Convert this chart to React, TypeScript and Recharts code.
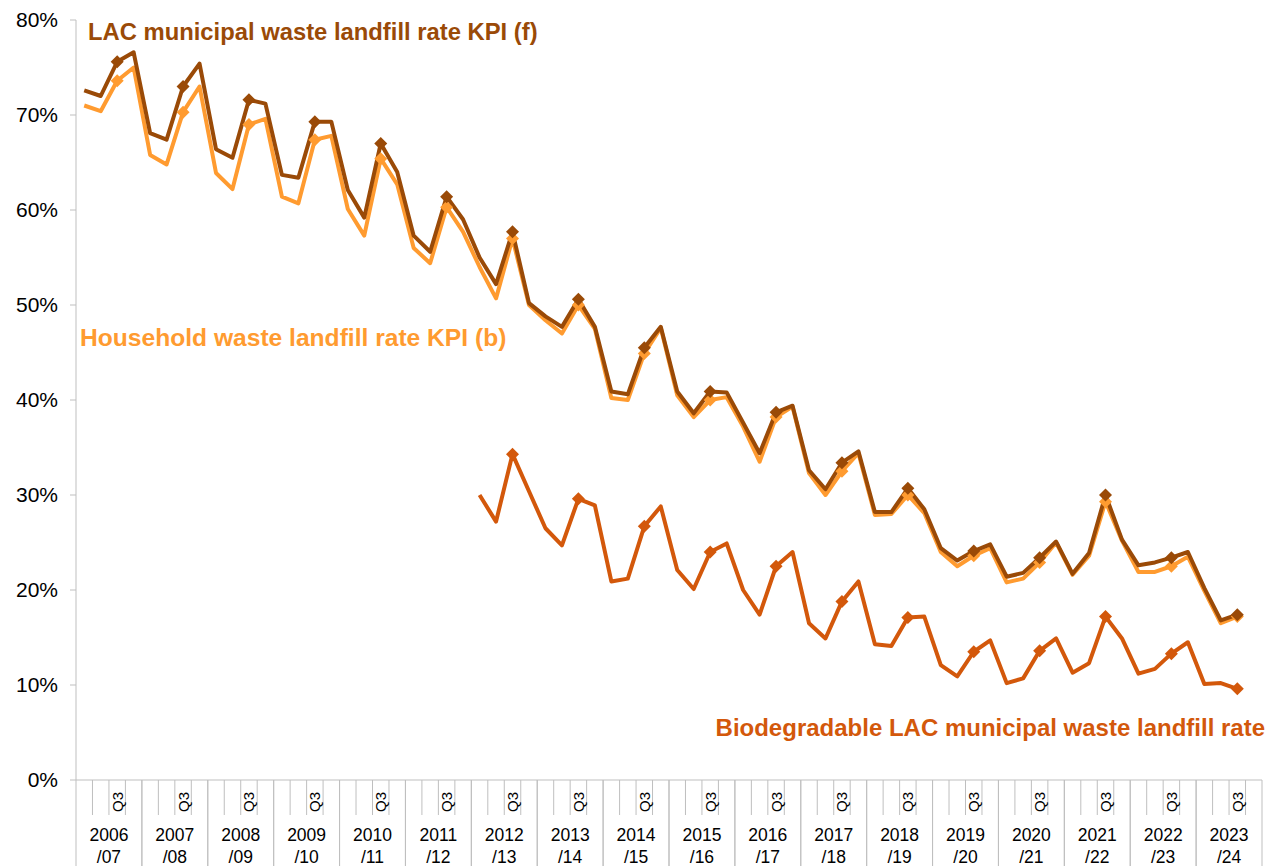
import { LineChart, Line, XAxis, YAxis, Customized } from "recharts";

const YEARS = [
  "2006/07", "2007/08", "2008/09", "2009/10", "2010/11", "2011/12",
  "2012/13", "2013/14", "2014/15", "2015/16", "2016/17", "2017/18",
  "2018/19", "2019/20", "2020/21", "2021/22", "2022/23", "2023/24",
];
const QUARTERS = ["Q1", "Q2", "Q3", "Q4"];
const Y_TICKS = [0, 10, 20, 30, 40, 50, 60, 70, 80];

// LAC municipal waste landfill rate KPI (f), quarterly
const lacRate = [
  72.6, 72.0, 75.6, 76.6,
  68.1, 67.4, 73.0, 75.4,
  66.4, 65.5, 71.6, 71.2,
  63.7, 63.4, 69.3, 69.3,
  62.1, 59.2, 67.0, 64.0,
  57.3, 55.6, 61.4, 59.0,
  55.0, 52.2, 57.7, 50.2,
  48.8, 47.7, 50.6, 47.7,
  40.9, 40.6, 45.5, 47.7,
  40.9, 38.6, 40.9, 40.8,
  37.6, 34.4, 38.7, 39.4,
  32.6, 30.6, 33.4, 34.6,
  28.2, 28.2, 30.7, 28.5,
  24.4, 23.1, 24.1, 24.8,
  21.4, 21.8, 23.4, 25.1,
  21.7, 23.9, 30.0, 25.3,
  22.6, 22.9, 23.4, 24.0,
  20.2, 16.8, 17.4, null,
];

// Household waste landfill rate KPI (b)
const householdRate = [
  71.0, 70.4, 73.6, 75.0,
  65.8, 64.8, 70.3, 73.0,
  63.9, 62.2, 69.0, 69.6,
  61.4, 60.7, 67.4, 67.8,
  60.1, 57.3, 65.4, 62.7,
  56.0, 54.4, 60.3, 57.7,
  54.0, 50.7, 57.0, 50.0,
  48.4, 47.0, 50.0, 47.5,
  40.2, 40.0, 44.9, 47.6,
  40.5, 38.2, 40.0, 40.3,
  37.2, 33.5, 38.2, 39.3,
  32.3, 30.0, 32.5, 34.4,
  27.9, 28.0, 30.0, 28.1,
  24.0, 22.5, 23.6, 24.4,
  20.8, 21.2, 22.9, 25.0,
  21.6, 23.6, 29.3, 25.2,
  21.9, 21.9, 22.5, 23.5,
  19.9, 16.5, 17.2, null,
];

// Biodegradable LAC municipal waste landfill rate (starts 2012/13)
const bioRate = [
  null, null, null, null,
  null, null, null, null,
  null, null, null, null,
  null, null, null, null,
  null, null, null, null,
  null, null, null, null,
  30.0, 27.2, 34.3, 30.4,
  26.5, 24.7, 29.6, 28.9,
  20.9, 21.2, 26.7, 28.8,
  22.1, 20.1, 24.0, 24.9,
  20.0, 17.4, 22.5, 24.0,
  16.5, 14.9, 18.8, 20.9,
  14.3, 14.1, 17.1, 17.2,
  12.1, 10.9, 13.5, 14.7,
  10.2, 10.7, 13.6, 14.9,
  11.3, 12.3, 17.2, 14.9,
  11.2, 11.7, 13.3, 14.5,
  10.1, 10.2, 9.6, null,
];

const LAC_COLOR = "#9A4A07";
const HH_COLOR = "#FF9B30";
const BIO_COLOR = "#D3580B";
const AXIS_COLOR = "#BFBFBF";
const FONT = "Arial, 'Liberation Sans', sans-serif";

const WIDTH = 1277;
const HEIGHT = 866;
const PLOT_LEFT = 76;
const PLOT_RIGHT = 1262;
const PLOT_TOP = 20;
const X_AXIS_HEIGHT = 86;

const data = YEARS.flatMap((year, y) =>
  QUARTERS.map((quarter, q) => {
    const i = y * 4 + q;
    return {
      key: `${year} ${quarter}`,
      year,
      quarter,
      lac: lacRate[i],
      household: householdRate[i],
      bio: bioRate[i],
    };
  })
);

const STEP = (PLOT_RIGHT - PLOT_LEFT) / data.length;
const HALF = STEP / 2;

function QuarterTick(props: any) {
  const { x, y, index } = props;
  const quarter = QUARTERS[index % 4];
  const [top, bottom] = YEARS[Math.floor(index / 4)].split("/");
  const shortEnd = y + 35;
  const longEnd = HEIGHT;
  return (
    <g>
      {quarter === "Q1" && (
        <line x1={x - HALF} x2={x - HALF} y1={y} y2={longEnd} stroke={AXIS_COLOR} />
      )}
      <line
        x1={x + HALF}
        x2={x + HALF}
        y1={y}
        y2={quarter === "Q4" ? longEnd : shortEnd}
        stroke={AXIS_COLOR}
      />
      {quarter === "Q3" && (
        <text
          x={x}
          y={y + 22}
          transform={`rotate(-90 ${x} ${y + 22})`}
          textAnchor="middle"
          dominantBaseline="central"
          fontSize={15}
          fontFamily={FONT}
          fill="#000"
        >
          Q3
        </text>
      )}
      {quarter === "Q2" && (
        <text
          x={x + HALF}
          y={y + 61}
          textAnchor="middle"
          fontSize={17.5}
          fontFamily={FONT}
          fill="#000"
        >
          <tspan x={x + HALF}>{top}</tspan>
          <tspan x={x + HALF} dy={22}>
            /{bottom}
          </tspan>
        </text>
      )}
    </g>
  );
}

function diamondDot(color: string) {
  return (props: any) => {
    const { cx, cy, payload, index } = props;
    if (payload?.quarter !== "Q3" || cy == null || Number.isNaN(cy)) {
      return <g key={`d-${index}`} />;
    }
    const r = 6.5;
    return (
      <path
        key={`d-${index}`}
        d={`M${cx},${cy - r} L${cx + r},${cy} L${cx},${cy + r} L${cx - r},${cy} Z`}
        fill={color}
      />
    );
  };
}

function SeriesLabels() {
  return (
    <g fontFamily={FONT} fontWeight="bold" fontSize={23.8}>
      <text x={88} y={40} fill={LAC_COLOR}>
        LAC municipal waste landfill rate KPI (f)
      </text>
      <text x={80} y={346} fill={HH_COLOR} fontSize={24.6}>
        Household waste landfill rate KPI (b)
      </text>
      <text x={1265} y={736} fill={BIO_COLOR} textAnchor="end" fontSize={24}>
        Biodegradable LAC municipal waste landfill rate
      </text>
    </g>
  );
}

export default function App() {
  return (
    <div style={{ position: "absolute", left: 0, top: 0, background: "#fff" }}>
      <LineChart
        width={WIDTH}
        height={HEIGHT}
        data={data}
        margin={{ top: PLOT_TOP, right: WIDTH - PLOT_RIGHT, bottom: 0, left: 0 }}
      >
        <XAxis
          dataKey="key"
          interval={0}
          height={X_AXIS_HEIGHT}
          tickSize={0}
          tickMargin={0}
          tickLine={false}
          axisLine={{ stroke: AXIS_COLOR }}
          padding={{ left: HALF, right: HALF }}
          tick={<QuarterTick />}
        />
        <YAxis
          width={PLOT_LEFT}
          domain={[0, 80]}
          ticks={Y_TICKS}
          allowDataOverflow
          tickFormatter={(v: number) => `${v}%`}
          axisLine={{ stroke: AXIS_COLOR }}
          tickLine={{ stroke: AXIS_COLOR }}
          tickSize={6}
          tickMargin={12}
          tick={{ fontSize: 21, fontFamily: FONT, fill: "#000" }}
        />
        <Line
          dataKey="household"
          stroke={HH_COLOR}
          strokeWidth={4}
          dot={diamondDot(HH_COLOR)}
          activeDot={false}
          isAnimationActive={false}
          strokeLinejoin="round"
        />
        <Line
          dataKey="lac"
          stroke={LAC_COLOR}
          strokeWidth={4}
          dot={diamondDot(LAC_COLOR)}
          activeDot={false}
          isAnimationActive={false}
          strokeLinejoin="round"
        />
        <Line
          dataKey="bio"
          stroke={BIO_COLOR}
          strokeWidth={4}
          dot={diamondDot(BIO_COLOR)}
          activeDot={false}
          isAnimationActive={false}
          strokeLinejoin="round"
        />
        <Customized component={SeriesLabels} />
      </LineChart>
    </div>
  );
}
